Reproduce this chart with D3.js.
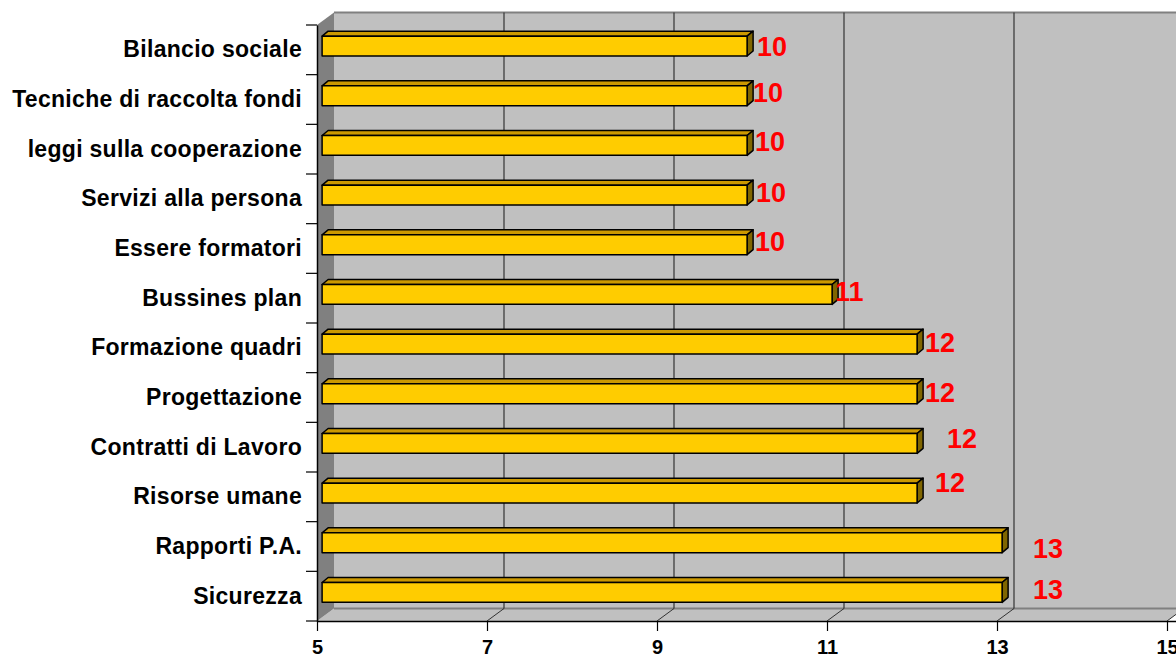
<!DOCTYPE html>
<html>
<head>
<meta charset="utf-8">
<script src="https://cdn.jsdelivr.net/npm/d3@7"></script>
<style>
  html, body { margin: 0; padding: 0; background: #fff; }
  svg { display: block; font-family: Arial, "Liberation Sans", sans-serif; }
</style>
</head>
<body>
<svg id="chart" width="1176" height="659"></svg>
<script>
// Courses ranked by number of requests
const categories = [
  "Bilancio sociale",
  "Tecniche di raccolta fondi",
  "leggi sulla cooperazione",
  "Servizi alla persona",
  "Essere formatori",
  "Bussines plan",
  "Formazione quadri",
  "Progettazione",
  "Contratti di Lavoro",
  "Risorse umane",
  "Rapporti P.A.",
  "Sicurezza"
];
const values = [10, 10, 10, 10, 10, 11, 12, 12, 12, 12, 13, 13];
const xTicks = [5, 7, 9, 11, 13, 15];

// hand-placed data label offsets [dx, dy] in px
const labelNudge = [[4, 0], [0, -3], [2, -4], [3, -3], [2, -3.5], [-3, -3],
                    [2, -2], [2, -1.5], [24, -5], [12, -11], [25, 5.5], [25, -3]];

const svg = d3.select("#chart");

// front plane of the 3D box
const plot = { left: 317, right: 1167, top: 25, bottom: 621 };
// depth offset from front plane to back wall
const depth = { dx: 17, dy: -12.5 };
// bars sit 30% of the way into the box
const barZ = 0.3;
// bar thickness (depth) offset
const barDepth = { dx: 6, dy: -5 };

const x = d3.scaleLinear().domain([5, 15]).range([plot.left, plot.right]);
const y = d3.scaleBand().domain(categories).range([plot.top, plot.bottom]);

const wallTop = plot.top + depth.dy;
const wallBottom = plot.bottom + depth.dy;
const wallLeft = plot.left + depth.dx;

// back wall
svg.append("rect")
  .attr("x", wallLeft).attr("y", wallTop)
  .attr("width", 1176 - wallLeft + 10).attr("height", wallBottom - wallTop)
  .attr("fill", "#C0C0C0");
svg.append("line")
  .attr("x1", wallLeft).attr("x2", 1176)
  .attr("y1", wallTop).attr("y2", wallTop)
  .attr("stroke", "#808080").attr("stroke-width", 2);

// floor
svg.append("path")
  .attr("d", `M${plot.left},${plot.bottom} L${wallLeft},${wallBottom} L${x(15) + depth.dx},${wallBottom} L${x(15)},${plot.bottom} Z`)
  .attr("fill", "#C0C0C0");
svg.append("line")
  .attr("x1", wallLeft).attr("x2", 1176)
  .attr("y1", wallBottom).attr("y2", wallBottom)
  .attr("stroke", "#808080").attr("stroke-width", 2);

// left side wall
svg.append("path")
  .attr("d", `M${plot.left},${plot.top} L${wallLeft},${wallTop} L${wallLeft},${wallBottom} L${plot.left},${plot.bottom} Z`)
  .attr("fill", "#808080");

// gridlines: vertical on back wall, diagonal across the floor
const grid = svg.append("g").attr("stroke", "#333").attr("stroke-width", 1.2);
xTicks.filter(t => t > 5).forEach(t => {
  const xb = x(t) + depth.dx;
  grid.append("line")
    .attr("x1", xb).attr("x2", xb).attr("y1", wallTop).attr("y2", wallBottom);
  grid.append("line")
    .attr("x1", x(t)).attr("y1", plot.bottom).attr("x2", xb).attr("y2", wallBottom)
    .attr("stroke-width", 1);
});

// bars
const bx = v => x(v) + barZ * depth.dx;
const barH = y.bandwidth() * 0.4;
const barCy = d => y(d.cat) + y.bandwidth() / 2 + barZ * depth.dy;
const data = categories.map((c, i) => ({ cat: c, val: values[i], nudge: labelNudge[i] }));

const bars = svg.append("g").attr("stroke", "#000").attr("stroke-width", 1.5)
  .attr("stroke-linejoin", "round");
data.forEach(d => {
  const x0 = bx(5), x1 = bx(d.val);
  const yt = barCy(d) - barH / 2, yb = barCy(d) + barH / 2;
  const { dx, dy } = barDepth;
  bars.append("path")
    .attr("d", `M${x0},${yt} L${x0 + dx},${yt + dy} L${x1 + dx},${yt + dy} L${x1},${yt} Z`)
    .attr("fill", "#CC9900");
  bars.append("path")
    .attr("d", `M${x1},${yt} L${x1 + dx},${yt + dy} L${x1 + dx},${yb + dy} L${x1},${yb} Z`)
    .attr("fill", "#806600");
  bars.append("rect")
    .attr("x", x0).attr("y", yt).attr("width", x1 - x0).attr("height", barH)
    .attr("fill", "#FFCC00");
});

// x axis
const xAxis = svg.append("g")
  .attr("transform", `translate(0,${plot.bottom})`)
  .call(d3.axisBottom(x).tickValues(xTicks).tickFormat(d3.format("d"))
        .tickSize(10).tickSizeOuter(0).tickPadding(9));
xAxis.select(".domain").attr("stroke", "#000").attr("stroke-width", 1.5)
  .attr("d", `M${plot.left},0.5H1176`);
xAxis.selectAll(".tick line").attr("stroke", "#000").attr("stroke-width", 1.2);
xAxis.selectAll("text")
  .attr("font-size", 20).attr("font-weight", "bold").attr("fill", "#000")
  .attr("font-family", "Arial, 'Liberation Sans', sans-serif");

// category axis with ticks between categories
const yAxis = svg.append("g")
  .attr("transform", `translate(${plot.left},0)`)
  .call(d3.axisLeft(y).tickSize(0).tickPadding(15));
yAxis.select(".domain").attr("stroke", "#000").attr("stroke-width", 1.5);
yAxis.selectAll("text")
  .attr("font-size", 23).attr("font-weight", "bold").attr("fill", "#000")
  .attr("letter-spacing", "0.3px")
  .attr("font-family", "Arial, 'Liberation Sans', sans-serif");
const bounds = categories.map(c => y(c)).concat([plot.bottom]);
svg.append("g").selectAll("line").data(bounds).join("line")
  .attr("x1", plot.left - 11).attr("x2", plot.left)
  .attr("y1", d => d).attr("y2", d => d)
  .attr("stroke", "#000").attr("stroke-width", 1.2);

// value labels
svg.append("g").selectAll("text").data(data).join("text")
  .attr("x", d => bx(d.val) + barDepth.dx + d.nudge[0])
  .attr("y", d => barCy(d) + d.nudge[1] + 27 * 0.358)
  .attr("font-size", 27).attr("font-weight", "bold").attr("fill", "#FF0000")
  .text(d => d.val);
</script>
</body>
</html>
